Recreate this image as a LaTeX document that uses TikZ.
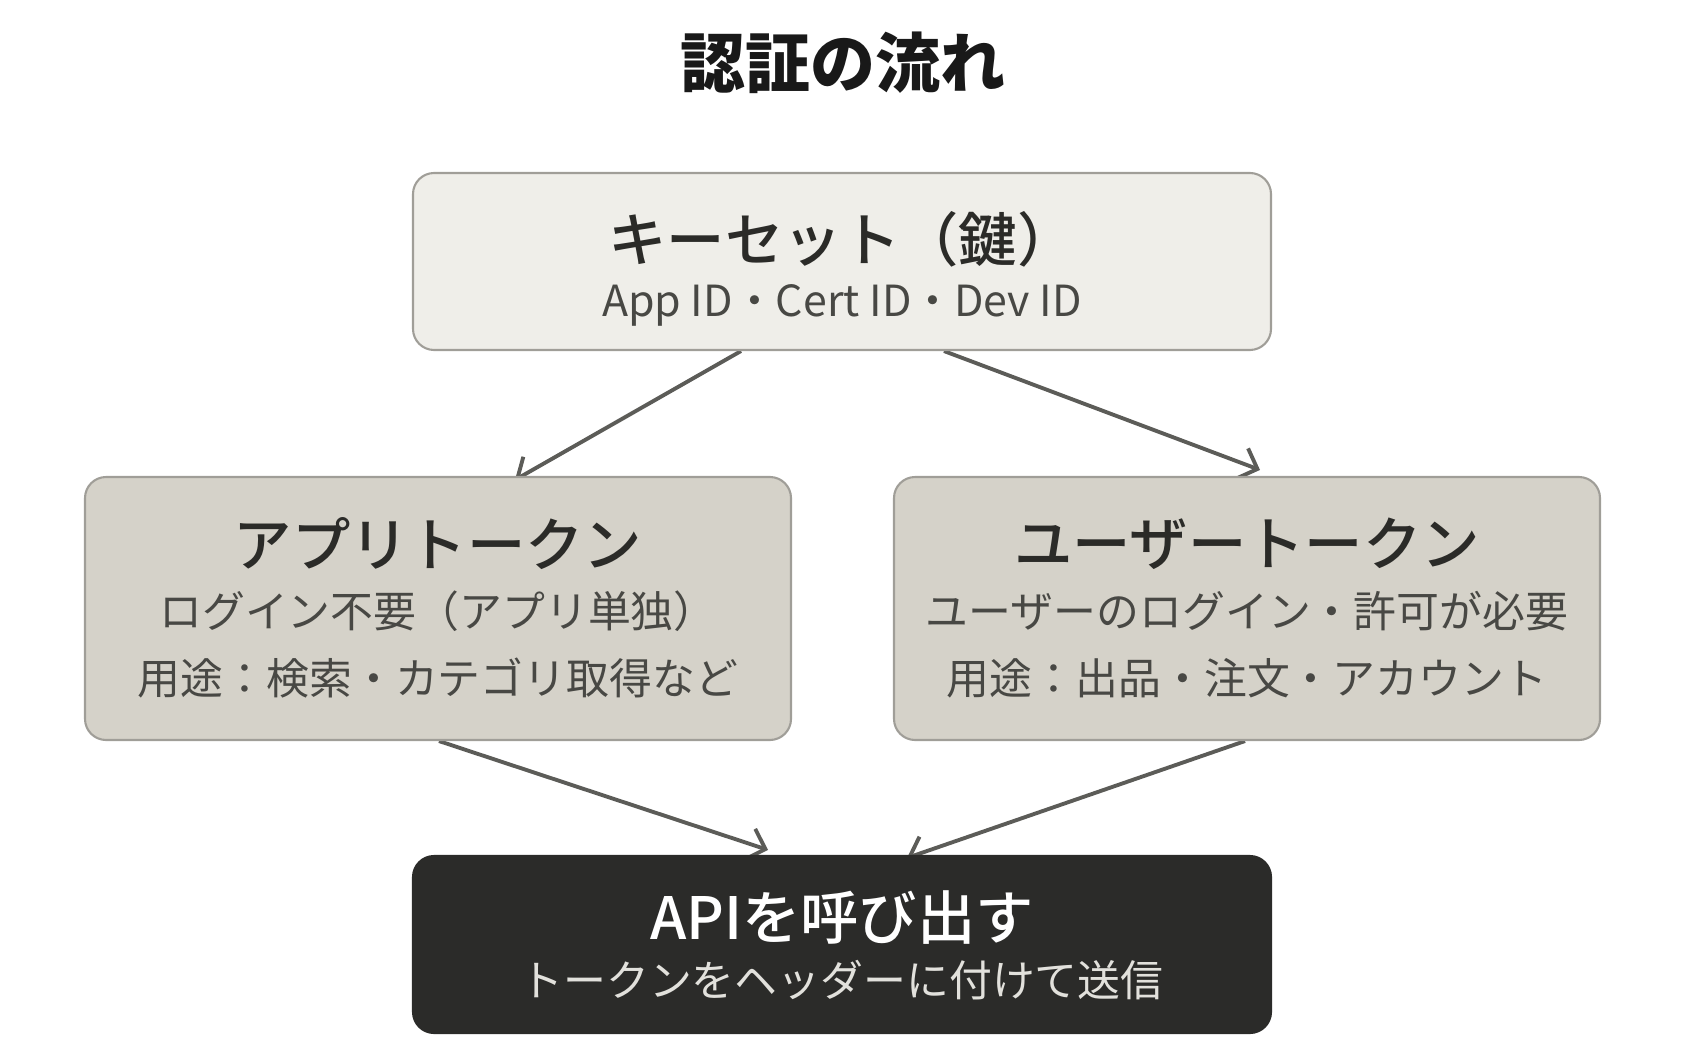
\documentclass[tikz,border=0pt]{standalone}
\usepackage{fontspec}
\setmainfont{Noto Sans CJK JP}
\newfontfamily\headfont{Noto Sans CJK JP Medium}
\usetikzlibrary{arrows.meta,backgrounds}
\definecolor{keyfill}{RGB}{239,238,233}
\definecolor{tokfill}{RGB}{213,210,201}
\definecolor{apifill}{RGB}{43,43,41}
\definecolor{boxline}{RGB}{160,158,152}
\definecolor{inkdark}{RGB}{43,43,40}
\definecolor{inkgray}{RGB}{72,72,68}
\definecolor{inklight}{RGB}{226,225,220}
\definecolor{flowline}{RGB}{92,92,88}

\tikzset{
  box/.style={draw=boxline, line width=0.6pt, rounded corners=6pt},
  wide/.style={box, minimum width=8.58cm, minimum height=1.77cm},
  tok/.style={box, fill=tokfill, minimum width=7.06cm, minimum height=2.63cm},
  head/.style={font=\fontsize{16.6}{19}\headfont, text=inkdark},
  sub/.style={font=\fontsize{12.2}{14}\selectfont, text=inkgray},
  flow/.style={draw=flowline, line width=1.1pt, -{Straight Barb[length=1.6mm, width=3.2mm]}},
}

\begin{document}
\begin{tikzpicture}
\useasboundingbox (0,0) rectangle (16.88,-10.54);
\node [font=\fontsize{18.5}{22}\selectfont\bfseries, text=black!90] (title) at (8.43,-0.63) {認証の流れ};
%
\node [wide, fill=keyfill] (key) at (8.42,-2.615) {};
\node [head] (keyhead) at (8.42,-2.39) {キーセット（鍵）};
\node [sub] (keysub) at (8.42,-3.05) {App ID・Cert ID・Dev ID};
%
\node [tok] (app) at (4.38,-6.085) {};
\node [head] (apphead) at (4.38,-5.44) {アプリトークン};
\node [sub] (appuse) at (4.38,-6.11) {ログイン不要（アプリ単独）};
\node [sub] (appex) at (4.38,-6.78) {用途：検索・カテゴリ取得など};
%
\node [tok] (user) at (12.47,-6.085) {};
\node [head] (userhead) at (12.47,-5.44) {ユーザートークン};
\node [sub] (useruse) at (12.47,-6.11) {ユーザーのログイン・許可が必要};
\node [sub] (userex) at (12.47,-6.78) {用途：出品・注文・アカウント};
%
\node [wide, fill=apifill, draw=apifill] (api) at (8.42,-9.445) {};
\node [head, text=white] (apihead) at (8.42,-9.18) {APIを呼び出す};
\node [sub, text=inklight] (apisub) at (8.42,-9.80) {トークンをヘッダーに付けて送信};
%
\begin{pgfonlayer}{background}
\draw [flow] ([xshift=-1.01cm]key.south) -- ([xshift=0.77cm,yshift=-0.04cm]app.north);
\draw [flow] ([xshift=1.02cm]key.south) -- ([xshift=0.13cm,yshift=0.06cm]user.north);
\draw [flow] ([xshift=0.01cm]app.south) -- ([xshift=-0.74cm,yshift=0.05cm]api.north);
\draw [flow] ([xshift=-0.02cm]user.south) -- ([xshift=0.65cm,yshift=-0.03cm]api.north);
\end{pgfonlayer}
\end{tikzpicture}
\end{document}
